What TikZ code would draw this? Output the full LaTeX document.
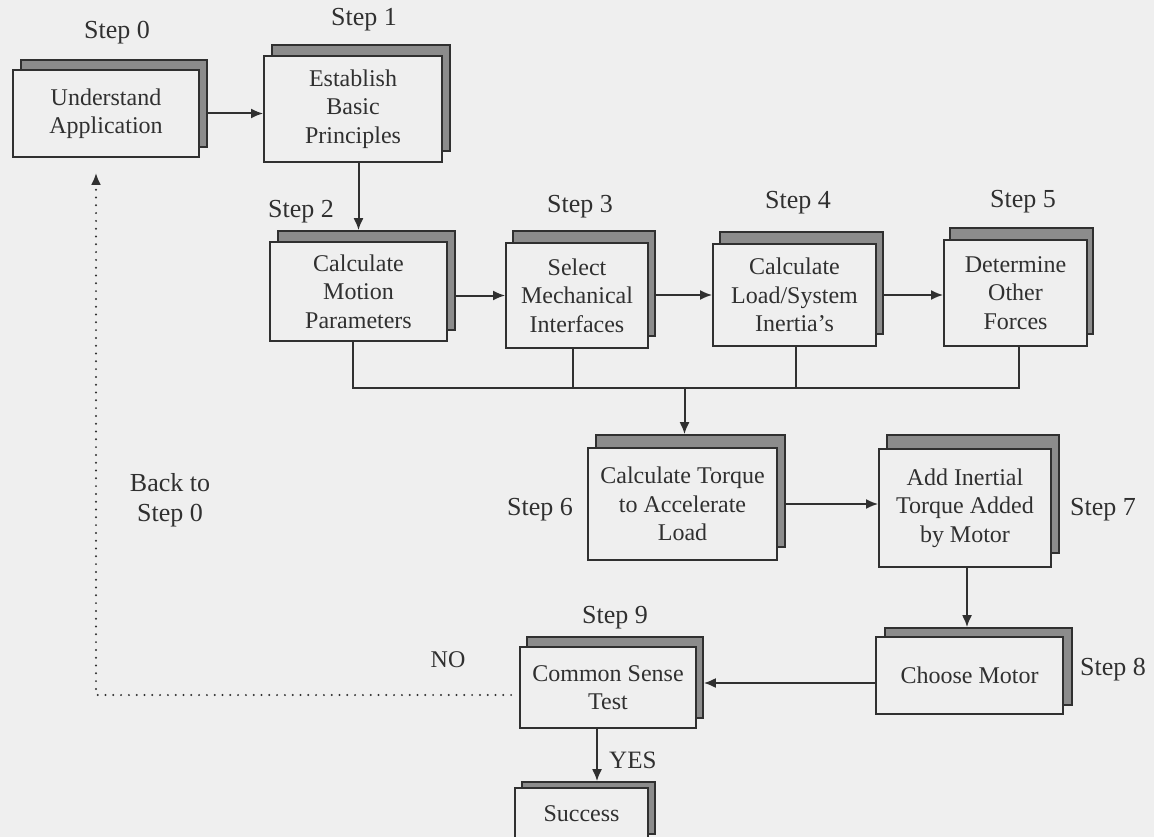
\documentclass[tikz,border=0pt]{standalone}
\usepackage{fontspec}
\setmainfont{Liberation Serif}
\usetikzlibrary{arrows.meta}
\definecolor{bgc}{RGB}{239,239,239}
\definecolor{ink}{RGB}{48,48,48}
\definecolor{shc}{RGB}{140,140,140}
\newcommand{\shbox}[8]{%
  \node[shadowbox, minimum width=#4pt, minimum height=#5pt] (s#1) at (#2+#6, #3-#7) {};
  \node[frontbox, minimum width=#4pt, minimum height=#5pt] (f#1) at (#2,#3) {#8};
}
\begin{document}
\begin{tikzpicture}[x=1pt,y=-1pt,
  shadowbox/.style={draw=ink, fill=shc, line width=1.6pt, inner sep=0pt},
  frontbox/.style={draw=ink, fill=bgc, line width=1.8pt, inner sep=0pt, align=center,
    text=ink, font=\fontsize{24}{28.5}\selectfont},
  steplbl/.style={text=ink, font=\fontsize{26}{30}\selectfont, align=center, inner sep=0pt},
  conn/.style={draw=ink, line width=2pt},
  arr/.style={conn, -{Latex[length=12pt,width=10pt]}},
  dotconn/.style={draw=ink, line width=2.2pt, line cap=round, dash pattern=on 0pt off 7.8pt,
    -{Latex[length=12pt,width=10pt]}}]
\useasboundingbox (0,0) rectangle (1154,837);
\fill[bgc] (0,0) rectangle (1154,837);
\begin{scope}
\clip (0,0) rectangle (1154,837);
% boxes: name, cx, cy, w, h, dx, dy, text
\shbox{0}{106}{113.5}{186}{87}{8}{10}{Understand\\Application}
\shbox{1}{353}{109}{178}{106}{8}{11}{Establish\\Basic\\Principles}
\shbox{2}{358.5}{291.5}{177}{99}{8}{11}{Calculate\\Motion\\Parameters}
\shbox{3}{577}{295.5}{142}{105}{7}{12}{Select\\Mechanical\\Interfaces}
\shbox{4}{794.5}{295}{163}{102}{7}{12}{Calculate\\Load/System\\Inertia’s}
\shbox{5}{1015.5}{293}{143}{106}{6}{12}{Determine\\Other\\Forces}
\shbox{6}{682.5}{504}{189}{112}{8}{13}{Calculate Torque\\to Accelerate\\Load}
\shbox{7}{965}{508}{172}{118}{8}{14}{Add Inertial\\Torque Added\\by Motor}
\shbox{8}{969.5}{675.5}{187}{77}{9}{9}{Choose Motor}
\shbox{9}{608}{687.5}{176}{81}{7}{10}{Common Sense\\Test}
\shbox{10}{581.5}{814}{133}{52}{7}{6}{Success}

% step labels
\node[steplbl] (l0) at (117,33) {Step 0};
\node[steplbl] (l1) at (364,20) {Step 1};
\node[steplbl] (l2) at (301,212) {Step 2};
\node[steplbl] (l3) at (580,207) {Step 3};
\node[steplbl] (l4) at (798,203) {Step 4};
\node[steplbl] (l5) at (1023,202) {Step 5};
\node[steplbl] (l6) at (540,510) {Step 6};
\node[steplbl] (l7) at (1103,510) {Step 7};
\node[steplbl] (l8) at (1113,670) {Step 8};
\node[steplbl] (l9) at (615,618) {Step 9};
\node[steplbl] (back) at (170,500) {Back to\\Step 0};
\node[steplbl, font=\fontsize{24}{28}\selectfont] (no) at (448,660) {NO};
\node[steplbl, font=\fontsize{25}{28}\selectfont, anchor=west] (yes) at (609,760) {YES};

% connectors
\draw[arr] (s0.east |- f0.east) -- (f1.west |- f0.east);
\draw[arr] (f2.north |- f1.south) -- (f2.north |- s2.north);
\draw[arr] (s2.east |- f3.west) -- (f3.west);
\draw[arr] (s3.east |- f4.west) -- (f4.west);
\draw[arr] (s4.east |- f4.east) -- (f5.west |- f4.east);
\coordinate (bus) at (0,388);
\draw[conn] ([xshift=-6pt]f2.south) -- ([xshift=-6pt]f2.south |- bus) -- ([xshift=3pt]f5.south |- bus) -- ([xshift=3pt]f5.south);
\draw[conn] ([xshift=-4pt]f3.south) -- ([xshift=-4pt]f3.south |- bus);
\draw[conn] ([xshift=1pt]f4.south) -- ([xshift=1pt]f4.south |- bus);
\draw[arr] ([xshift=2pt]f6.north |- bus) -- ([xshift=2pt]f6.north |- s6.north);
\draw[arr] (s6.east |- f6.east) -- (f7.west |- f6.east);
\draw[arr] ([xshift=2pt]f7.south) -- ([xshift=2pt]f7.south |- s8.north);
\draw[arr] (f8.west |- 0,683) -- (s9.east |- 0,683);
\draw[arr] ([xshift=-11pt]f9.south) -- ([xshift=-11pt]f9.south |- s10.north);
\coordinate (corner) at (96,695);
\draw[dotconn] ([xshift=-8pt]f9.west |- corner) -- (corner) -- ([yshift=-15pt]f0.south -| corner);
\end{scope}
\end{tikzpicture}
\end{document}
